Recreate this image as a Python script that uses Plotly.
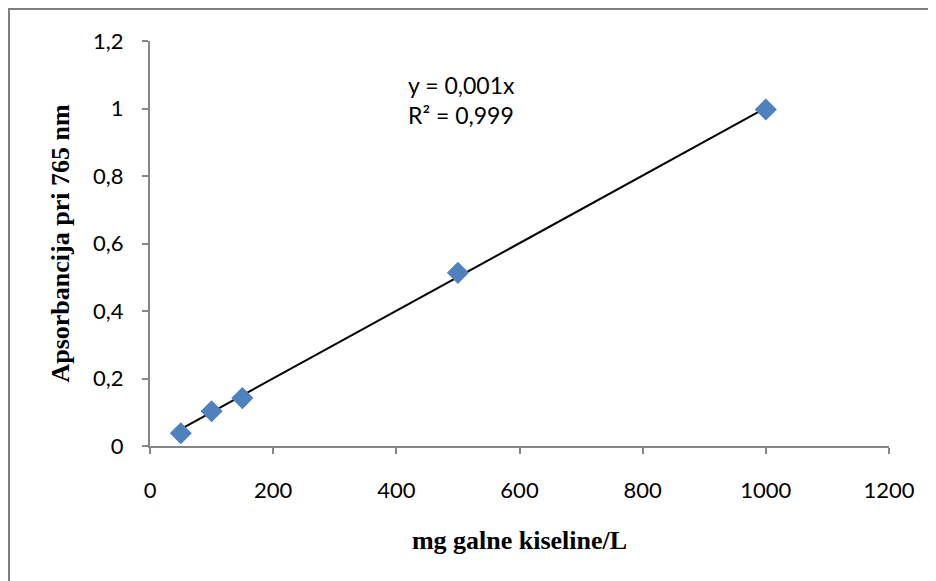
import plotly.graph_objects as go
import numpy as np

# Data
concentration = [50, 100, 150, 500, 1000]          # mg galne kiseline/L
absorbance = [0.038, 0.103, 0.142, 0.513, 0.997]    # Apsorbancija pri 765 nm
x_ticks = [0, 200, 400, 600, 800, 1000, 1200]
y_ticks = [0, 0.2, 0.4, 0.6, 0.8, 1.0, 1.2]
equation_text = "y = 0,001x<br>R² = 0,999"

# Linear trendline through origin (least squares)
xa = np.array(concentration, dtype=float)
ya = np.array(absorbance, dtype=float)
slope = float((xa * ya).sum() / (xa * xa).sum())
trend_x = [min(concentration), max(concentration)]
trend_y = [slope * v for v in trend_x]

fig = go.Figure()
fig.add_trace(go.Scatter(
    x=trend_x, y=trend_y, mode="lines",
    line=dict(color="black", width=2), showlegend=False, hoverinfo="skip"))
fig.add_trace(go.Scatter(
    x=concentration, y=absorbance, mode="markers",
    marker=dict(symbol="diamond", size=17, color="#4F81BD",
                line=dict(width=0)),
    showlegend=False))

# The page body has an 8px margin, so the figure is sized/offset to compensate.
PW, PH = 739, 405          # plot area size in px
PL, PT = 150, 41           # plot area top-left on the page

def px_x(page_x):
    return (page_x - PL) / PW

def px_y(page_y):
    return (PT + PH - page_y) / PH

axis_color = "#868686"
tick_font = dict(family="Lato, Carlito, Calibri, sans-serif", size=22, color="black")
title_font = dict(family="Liberation Serif, Times New Roman, serif", size=26, color="black")
fig.update_layout(
    width=928, height=573,
    margin=dict(l=142, r=47, t=33, b=135),
    paper_bgcolor="white", plot_bgcolor="white",
    separators=", ",
    font=tick_font,
    xaxis=dict(
        range=[0, 1200], tickvals=x_ticks, showgrid=False, zeroline=False,
        showline=True, linecolor=axis_color, linewidth=2,
        ticks="outside", ticklen=6, tickcolor=axis_color, tickwidth=2,
        ticklabelstandoff=18, tickfont=tick_font, automargin=False,
        title=dict(text="<b>mg galne kiseline/L</b>", font=title_font, standoff=28),
    ),
    yaxis=dict(
        range=[0, 1.2], tickvals=y_ticks, showgrid=False, zeroline=False,
        showline=True, linecolor=axis_color, linewidth=2,
        ticks="outside", ticklen=6, tickcolor=axis_color, tickwidth=2,
        ticklabelstandoff=14, tickfont=tick_font, automargin=False,
        title=dict(text="<b>Apsorbancija pri 765 nm</b>", font=title_font, standoff=16),
    ),
    annotations=[dict(
        x=px_x(461), y=px_y(100), xref="paper", yref="paper",
        xanchor="center", yanchor="middle",
        text=equation_text, showarrow=False, align="left",
        font=dict(family="Lato, Carlito, Calibri, sans-serif", size=23, color="black"),
    )],
    shapes=[dict(
        type="rect", xref="paper", yref="paper",
        x0=px_x(9), x1=px_x(960),
        y0=px_y(600), y1=px_y(9),
        line=dict(color="#7f7f7f", width=2), fillcolor="rgba(0,0,0,0)", layer="below",
    )],
)

fig.write_html("out.html")
